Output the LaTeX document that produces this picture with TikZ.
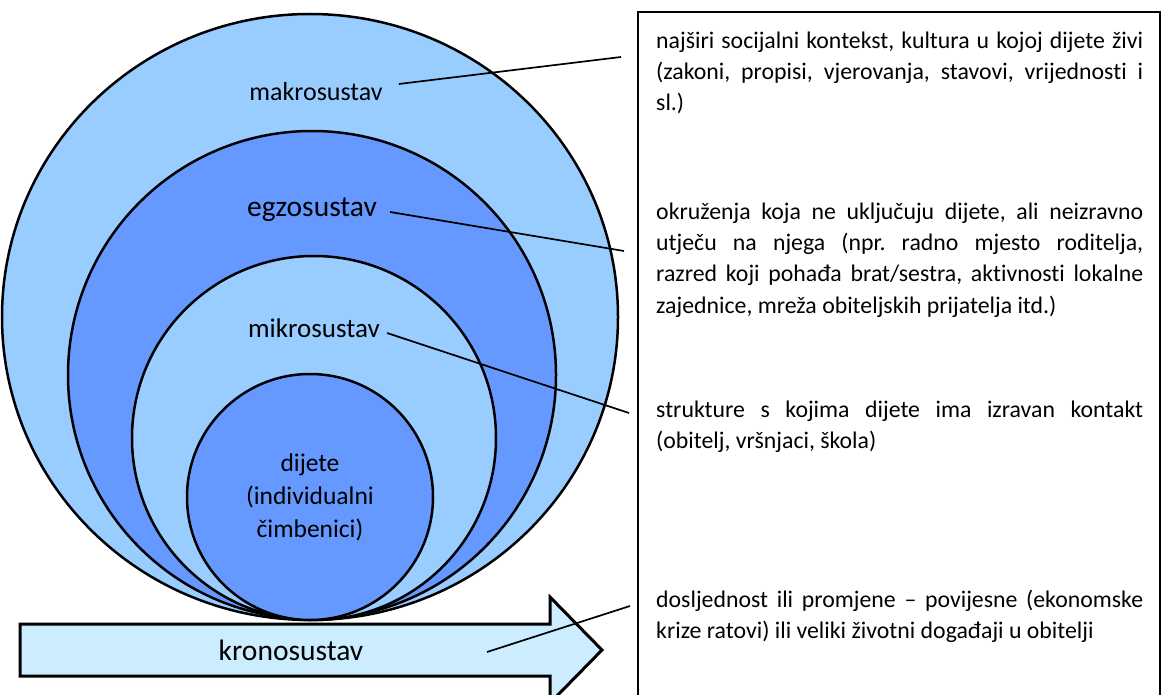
\documentclass[tikz,border=0pt]{standalone}
\usepackage{fontspec}
\setmainfont{Carlito}[Ligatures=NoCommon]
\frenchspacing
\definecolor{outerblue}{RGB}{153,204,255}
\definecolor{innerblue}{RGB}{102,153,255}
\definecolor{timeblue}{RGB}{204,236,255}
\begin{document}
\begin{tikzpicture}[x=1pt,y=-1pt,
    ring/.style={draw=black,line width=2.5pt},
    link/.style={line width=1.7pt},
    layer/.style={inner sep=0pt,font=\fontsize{26}{31}\selectfont},
    note/.style={anchor=base west,inner sep=0pt,text width=487pt,align=justify,
                 font=\fontsize{23.8}{31}\selectfont}]
    \useasboundingbox (0,0) rectangle (1162,695);
    \clip (0,0) rectangle (1162,695);
    \def\touchy{620}
    \coordinate (Touch) at (310,\touchy);
    \filldraw[ring,fill=outerblue] (310,317) ellipse [x radius=308pt,y radius=303pt];
    \filldraw[ring,fill=innerblue] (312,375) circle [radius=244pt];
    \filldraw[ring,fill=outerblue] (314,438) circle [radius=182pt];
    \filldraw[ring,fill=innerblue] (310,497) circle [radius=123pt];
    \filldraw[fill=timeblue,line width=3pt,line join=miter]
        (20,624) -- (550,624) -- (550,597) -- (602,650) -- (550,703)
        -- (550,676) -- (20,676) -- cycle;
    \draw[line width=1.4pt] (638,12) rectangle (1160,720);
    \node[layer] (makro) at (316,92) {makrosustav};
    \node[layer,font=\fontsize{29.5}{31}\selectfont] (egzo) at (312,210) {egzosustav};
    \node[layer,font=\fontsize{27}{31}\selectfont] (mikro) at (314,328) {mikrosustav};
    \node[layer,align=center,font=\fontsize{25.5}{33}\selectfont] (dijete) at (310,497)
        {dijete\\(individualni\\čimbenici)};
    \node[layer,font=\fontsize{29.5}{31}\selectfont] (krono) at (291,650) {kronosustav};
    \node[note] (makrotext) at (656,49) {najširi socijalni kontekst, kultura u kojoj dijete živi\linebreak
        (zakoni, propisi, vjerovanja, stavovi, vrijednosti i\linebreak sl.)};
    \node[note] (egzotext) at (656,220) {okruženja koja ne uključuju dijete, ali neizravno\linebreak
        utječu na njega (npr. radno mjesto roditelja,\linebreak
        razred koji pohađa brat/sestra, aktivnosti lokalne\linebreak
        zajednice, mreža obiteljskih prijatelja itd.)};
    \node[note] (mikrotext) at (656,417) {strukture s kojima dijete ima izravan kontakt\linebreak
        (obitelj, vršnjaci, škola)};
    \node[note] (kronotext) at (656,607) {dosljednost ili promjene – povijesne (ekonomske\linebreak
        krize ratovi) ili veliki životni događaji u obitelji};
    \coordinate (makroend) at (621,57);
    \coordinate (egzoend) at (624,251);
    \coordinate (mikroend) at (629,413);
    \coordinate (kronostart) at (487,652);
    \coordinate (kronoend) at (630,606);
    \draw[link] ([xshift=16pt,yshift=8pt]makro.east) -- (makroend);
    \draw[link] ([xshift=13pt,yshift=-2pt]egzo.east) -- (egzoend);
    \draw[link] ([xshift=7pt,yshift=-5pt]mikro.east) -- (mikroend);
    \draw[link] (kronostart) -- (kronoend);
\end{tikzpicture}
\end{document}
